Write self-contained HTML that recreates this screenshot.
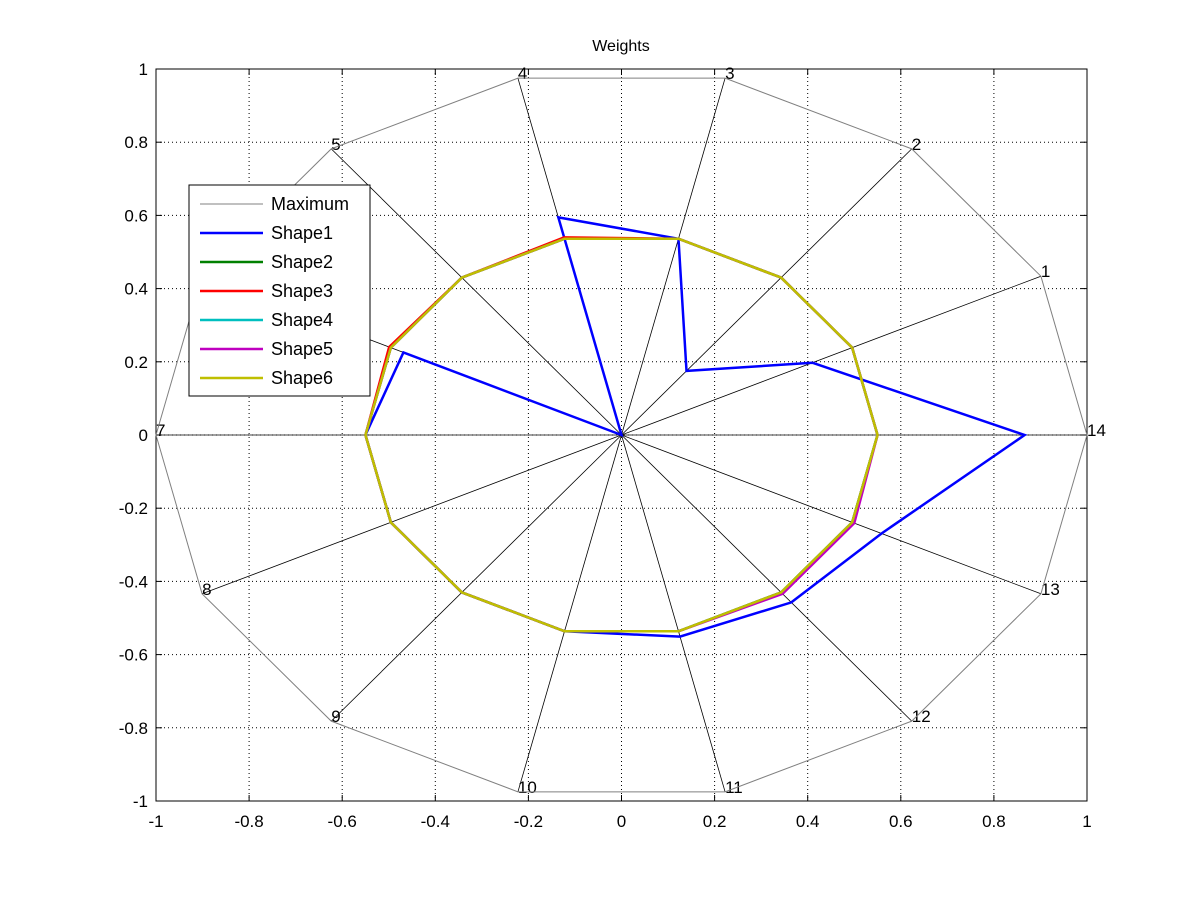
<!DOCTYPE html>
<html><head><meta charset="utf-8"><style>
body{margin:0;background:#fff}
svg{display:block;font-family:"Liberation Sans",sans-serif}
</style></head><body>
<svg id="s" width="1201" height="901" xmlns="http://www.w3.org/2000/svg"></svg>
<script>
const cx=621.5,cy=435,sx=465.5,sy=366;
const X=v=>cx+v*sx,Y=v=>cy-v*sy;
let h='<rect width="1201" height="901" fill="#fff"/>';
h+='<text x="621" y="51" font-size="16" text-anchor="middle">Weights</text>';
for(let i=-5;i<=5;i++){const v=i/5;
 if(i>-5&&i<5){h+=`<line x1="${X(v)}" y1="69" x2="${X(v)}" y2="801" stroke="#000" stroke-width="1" stroke-dasharray="1,3"/>`;
 h+=`<line x1="156" y1="${Y(v)}" x2="1087" y2="${Y(v)}" stroke="#000" stroke-width="1" stroke-dasharray="1,3"/>`;}
 const lab=Number.isInteger(v)?String(v):v.toFixed(1);
 h+=`<text x="${X(v)}" y="827" font-size="17" text-anchor="middle">${lab}</text>`;
 h+=`<text x="148" y="${Y(v)+6}" font-size="17" text-anchor="end">${lab}</text>`;
 h+=`<line x1="${X(v)}" y1="801" x2="${X(v)}" y2="795" stroke="#000"/><line x1="${X(v)}" y1="69" x2="${X(v)}" y2="75" stroke="#000"/>`;
 h+=`<line x1="156" y1="${Y(v)}" x2="162" y2="${Y(v)}" stroke="#000"/><line x1="1087" y1="${Y(v)}" x2="1081" y2="${Y(v)}" stroke="#000"/>`;
}
h+='<rect x="156" y="69" width="931" height="732" fill="none" stroke="#000"/>';
const ang=k=>k*2*Math.PI/14;
const P=(k,r)=>[X(r*Math.cos(ang(k))),Y(r*Math.sin(ang(k)))];
let mx=[];
for(let k=1;k<=14;k++){const p=P(k,1);mx.push(p);
 h+=`<line x1="${cx}" y1="${cy}" x2="${p[0]}" y2="${p[1]}" stroke="#000" stroke-width="0.8"/>`;
 h+=`<text x="${p[0]}" y="${p[1]+1}" font-size="17">${k}</text>`;}
const poly=(pts,c,w)=>`<polyline points="${pts.map(p=>p.join(',')).join(' ')}" fill="none" stroke="${c}" stroke-width="${w}" stroke-linejoin="miter"/>`;
mx.push(mx[0]);h+=poly(mx,'#808080',1);
const r1=[0.455,0.224,0.55,0.61,0,0.52,0.55,0.55,0.55,0.55,0.565,0.585,0.62,0.866];
const shape=(r,c,w)=>{let p=r.map((v,i)=>P(i+1,v));p.push(p[0]);h+=poly(p,c,w);};
shape(r1,'#0000ff',2.5);
const base=[0.55,0.55,0.55,0.55,0.55,0.55,0.55,0.55,0.55,0.55,0.55,0.55,0.55,0.55];
shape(base,'#008000',2.5);
shape(base.map((v,i)=>v+(i==3||i==5?0.004:0)),'#ff0000',2.5);
shape(base,'#00bfbf',2.5);
shape(base.map((v,i)=>v+(i==11||i==12?0.005:0)),'#bf00bf',2.5);
shape(base,'#bfbf00',2.5);
h+='<rect x="189" y="185" width="181" height="211" fill="#fff" stroke="#000"/>';
const L=[['Maximum','#808080',1],['Shape1','#0000ff',2.5],['Shape2','#008000',2.5],['Shape3','#ff0000',2.5],['Shape4','#00bfbf',2.5],['Shape5','#bf00bf',2.5],['Shape6','#bfbf00',2.5]];
L.forEach((e,i)=>{const y=204+i*29;h+=`<line x1="200" y1="${y}" x2="263" y2="${y}" stroke="${e[1]}" stroke-width="${e[2]}"/><text x="271" y="${y+6}" font-size="18">${e[0]}</text>`;});
document.getElementById('s').innerHTML=h;
</script>
</body></html>
